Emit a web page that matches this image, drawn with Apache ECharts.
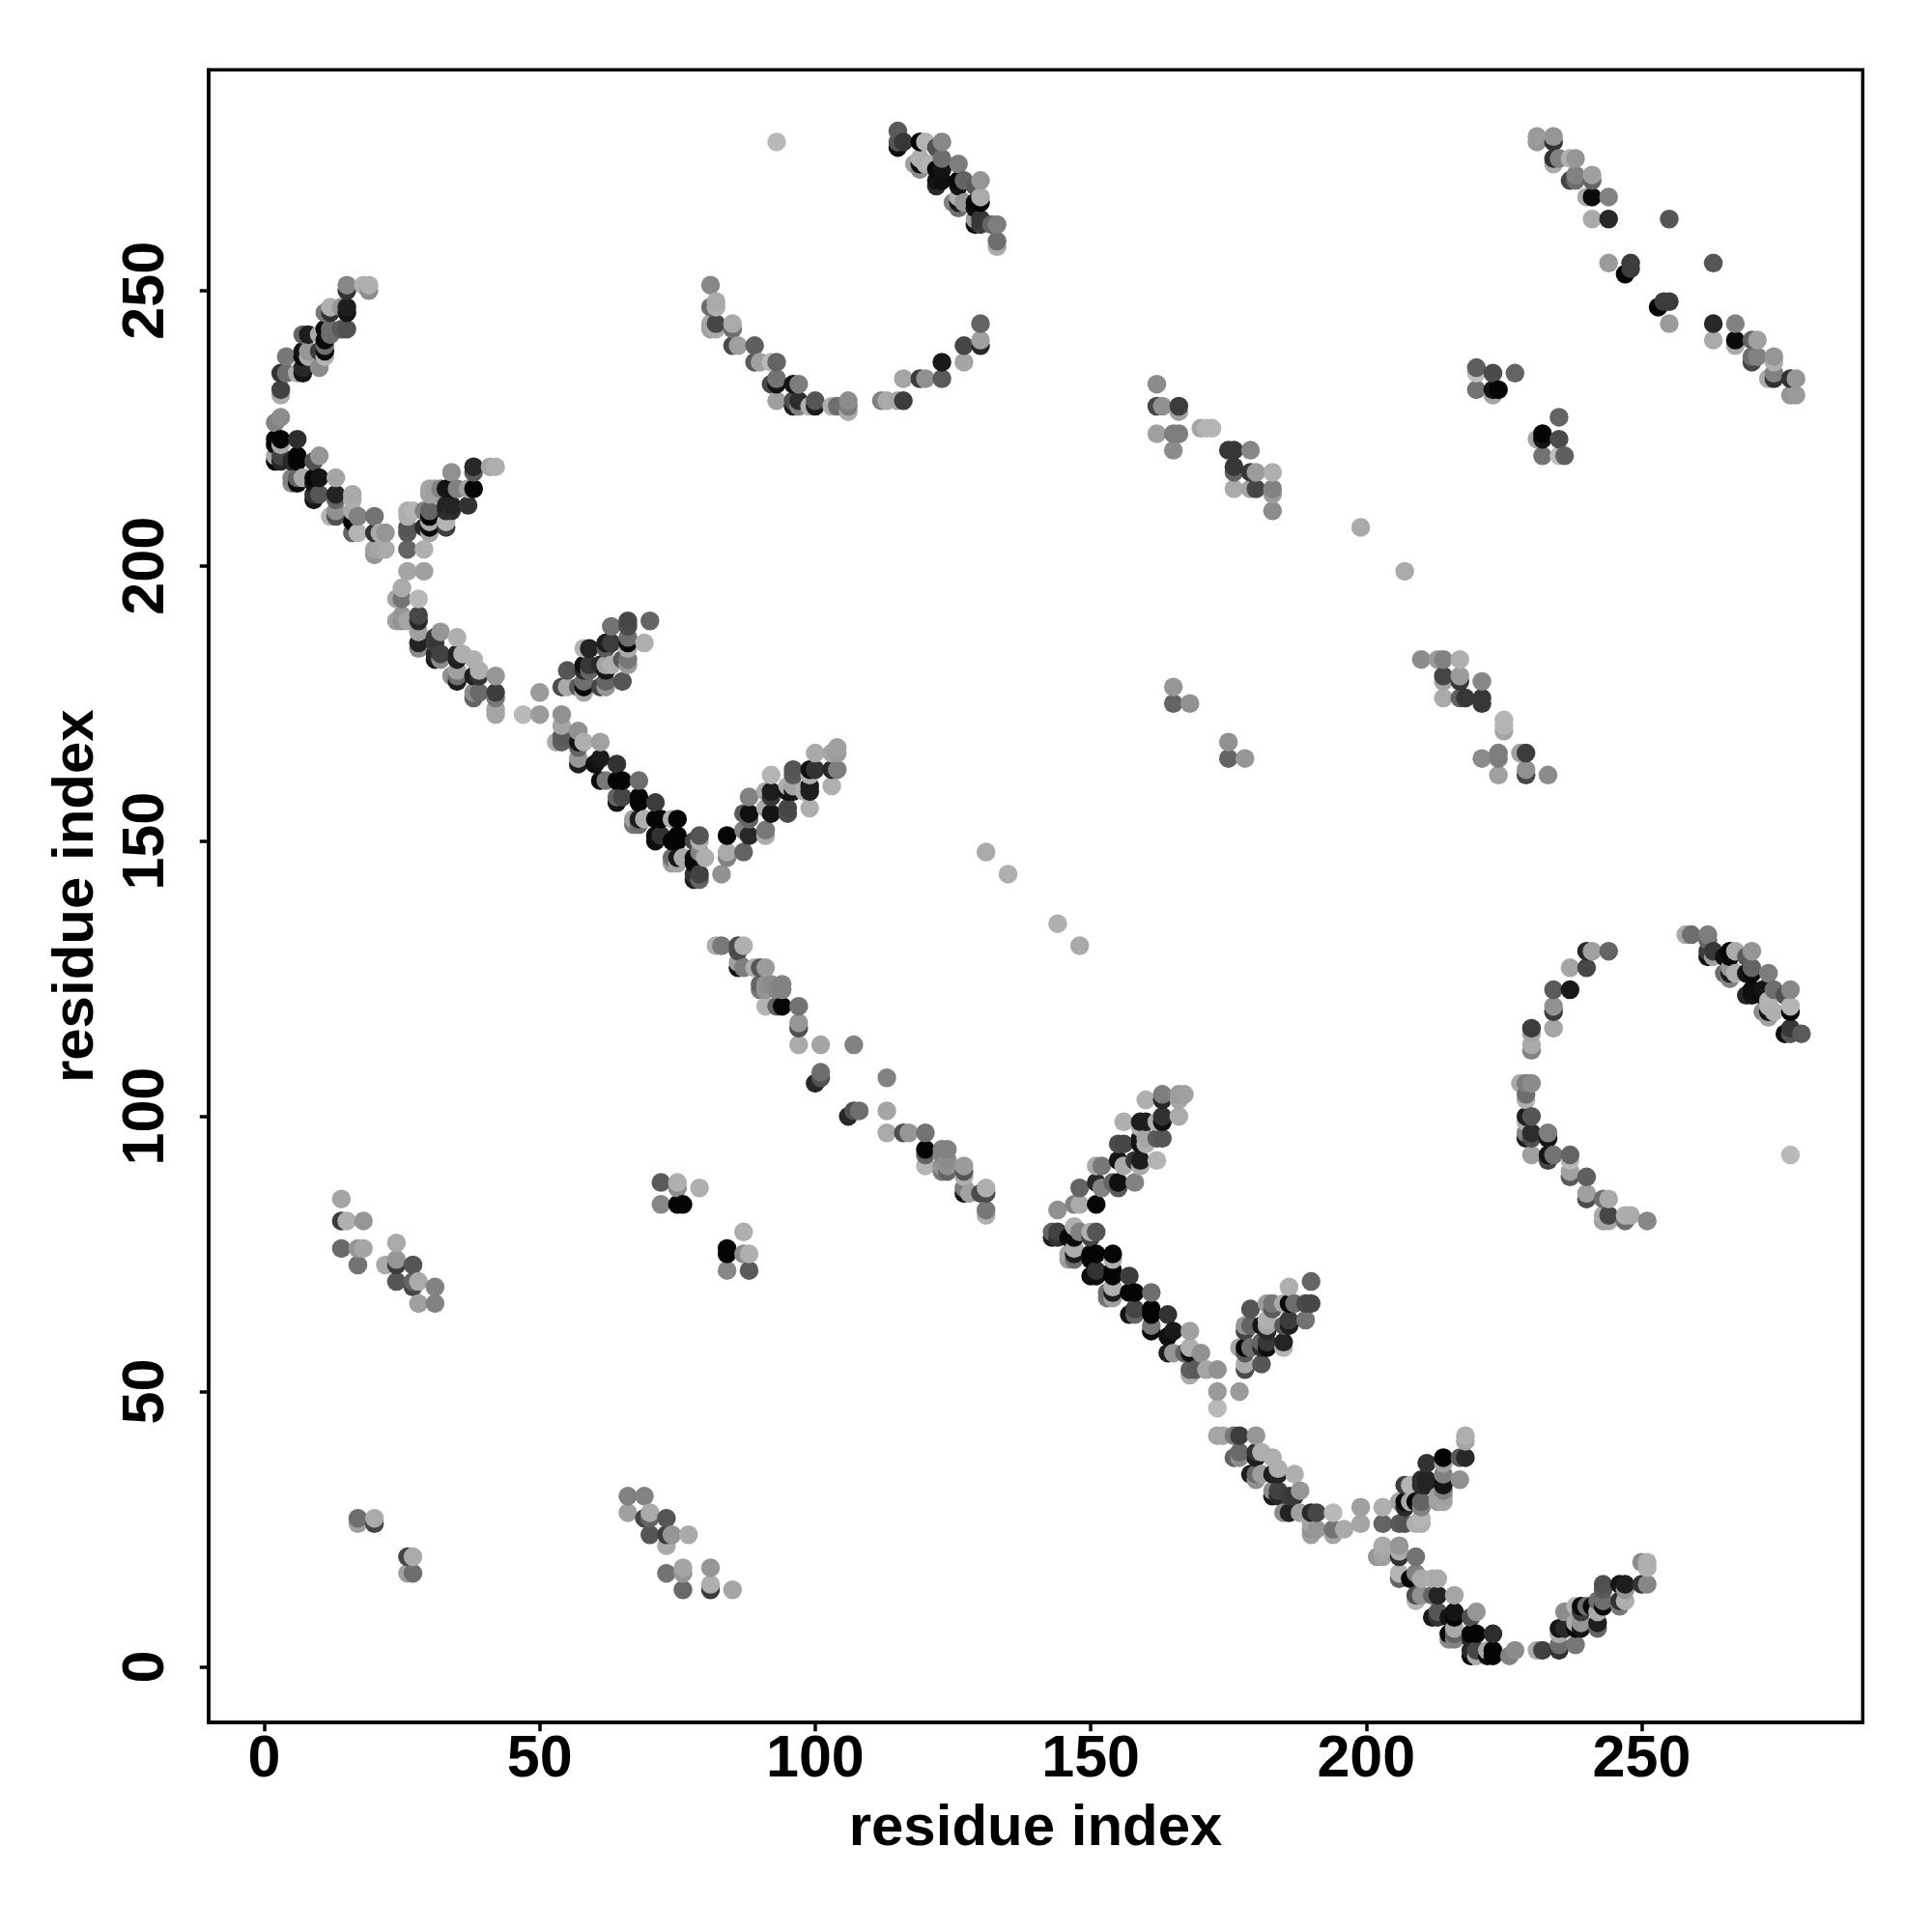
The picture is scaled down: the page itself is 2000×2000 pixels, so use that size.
<!DOCTYPE html>
<html><head><meta charset="utf-8">
<style>html,body{margin:0;padding:0;background:#fff}#c{width:2000px;height:2000px}</style>
<script src="https://cdn.jsdelivr.net/npm/echarts@6/dist/echarts.min.js"></script>
</head><body><div id="c"></div>
<script>
// Contacts are [residue i, residue j, grey level]; the map is symmetric, i < j listed.
const armTopLeft = [[15,251,135],[15,250,50],[18,251,175],[19,251,175],[19,250,140],[15,247,30],[15,246,20],[14,247,150],[12,247,175],[12,246,50],[11,246,120],[15,243,80],[14,243,90],[12,243,110],[12,242,110],[11,243,10],[11,241,10],[10,242,170],[8,242,30],[7,242,100],[11,240,110],[11,239,10],[11,238,180],[10,239,60],[8,239,150],[7,239,20],[7,238,5],[8,238,170],[4,238,120],[3,235,50],[4,235,110],[6,235,170],[7,236,40],[7,235,20],[10,236,140],[3,232,65],[3,231,170]];
const armLeftLower = [[3,227,140],[2,226,130],[2,223,5],[3,223,5],[6,223,45],[3,222,170],[2,222,15],[2,220,170],[2,219,5],[3,220,70],[3,219,40],[6,220,5],[6,219,5],[5,219,40],[10,220,150],[9,219,80],[5,216,130],[5,215,140],[6,215,10],[6,216,100],[7,216,170],[10,216,20],[9,216,5],[9,215,20],[13,216,165],[9,213,50],[9,212,25],[10,213,85],[13,213,35],[13,212,100],[16,213,170],[16,212,175],[12,209,180],[13,210,145],[13,209,80],[16,210,170],[16,208,5],[17,209,130],[20,209,115],[16,206,100],[17,206,180],[20,206,50],[21,206,170],[22,206,150],[20,203,160],[20,202,150],[22,203,170],[21,203,165]];
const wingLeft = [[26,210,175],[27,210,180],[26,209,175],[26,207,85],[26,206,90],[26,203,100],[29,203,175],[26,199,165],[29,199,160],[25,196,170],[29,207,40],[30,207,10],[30,206,165],[30,208,170],[30,210,100],[30,209,5],[29,210,130],[30,214,165],[30,213,160],[31,214,160],[31,213,160],[32,214,130],[33,208,180],[33,207,60],[33,211,35],[34,211,35],[33,210,45],[34,210,45],[33,214,20],[34,214,20],[34,217,145],[35,214,130],[37,211,50],[38,214,5],[37,214,160],[38,218,40],[38,217,90],[41,218,165],[42,218,175]];
const helixMid = [[25,194,115],[24,194,165],[28,194,185],[24,190,160],[25,191,150],[25,190,145],[26,190,165],[28,191,70],[28,190,40],[28,188,160],[28,186,35],[28,185,140],[32,188,150],[31,187,55],[31,186,60],[35,187,175],[32,184,65],[31,184,40],[31,183,25],[32,183,140],[35,184,35],[36,184,175],[35,183,30],[38,183,175],[39,181,175],[38,180,30],[39,180,50],[42,180,150],[34,180,145],[35,181,160],[35,180,110],[35,179,30],[38,177,140],[38,176,100],[39,177,105],[42,177,60],[42,176,120],[42,174,165],[42,173,165],[47,173,185],[50,173,155],[50,177,155]];
const helixDown = [[54,173,145],[54,171,165],[54,169,90],[54,168,95],[53,168,170],[57,170,145],[57,168,20],[58,168,175],[57,167,100],[61,168,160],[57,165,150],[57,164,30],[60,164,15],[61,165,25],[64,164,50],[61,161,10],[62,161,120],[64,161,5],[65,161,5],[68,161,110],[64,157,20],[65,158,70],[64,158,100],[68,158,5],[68,157,5],[71,157,60],[67,154,160],[67,153,120],[68,154,30],[69,154,175],[68,153,110],[71,154,5],[72,154,5],[75,154,5],[74,154,175],[71,151,15],[71,150,15],[72,151,50],[75,151,5],[75,150,5],[74,150,5],[79,151,85],[78,150,70],[79,150,175],[74,147,110],[74,146,155],[75,147,25],[75,146,165],[76,147,170],[78,147,10],[78,146,10],[79,148,130],[80,147,175],[78,143,30],[79,144,65],[79,143,100],[78,144,50],[83,144,145],[84,151,5],[84,148,170],[84,147,130]];
const helixUp = [[87,148,100],[87,152,130],[87,155,90],[88,158,130],[88,155,15],[88,154,100],[88,151,40],[91,152,120],[91,151,170],[91,156,170],[91,159,170],[92,162,180],[92,159,30],[92,158,55],[92,155,20],[95,156,70],[95,155,75],[95,160,175],[95,159,20],[96,163,85],[96,162,90],[96,160,165],[96,159,20],[99,163,15],[100,163,50],[99,160,30],[99,159,30],[99,156,175],[98,159,175],[99,162,175],[100,166,170],[103,163,40],[104,163,125],[103,160,175],[103,166,165],[104,167,160],[104,166,155]];
const wingMid = [[70,190,100],[66,190,70],[66,189,75],[63,189,115],[69,186,175],[66,187,110],[66,186,10],[66,185,170],[66,183,120],[66,182,155],[65,183,90],[62,186,30],[63,186,60],[62,185,90],[59,185,35],[58,185,180],[55,181,85],[58,182,15],[59,182,55],[58,181,45],[59,181,100],[62,182,165],[63,182,175],[61,182,40],[62,181,20],[54,178,75],[55,178,170],[57,178,90],[58,179,110],[58,178,5],[58,177,165],[61,178,70],[62,179,100],[62,178,150],[65,179,85]];
const arcTopRight = [[115,279,90],[115,277,85],[115,276,15],[116,277,55],[119,277,5],[120,277,180],[123,277,135],[122,276,80],[118,273,160],[119,274,175],[119,273,15],[119,272,140],[120,273,175],[121,273,180],[123,274,110],[122,272,10],[123,272,20],[123,270,15],[122,270,20],[122,269,40],[126,273,125],[127,270,100],[126,270,10],[126,269,20],[130,270,150],[129,269,90],[125,266,130],[126,267,175],[126,266,25],[126,265,110],[127,266,150],[130,267,170],[129,266,10],[130,266,5],[129,265,15],[129,263,160],[129,262,15],[130,263,55],[130,262,60],[132,262,100],[133,262,125],[133,259,110],[133,258,170]];
const arcBowl = [[81,251,135],[81,247,110],[82,248,170],[82,247,175],[81,244,165],[81,243,160],[82,244,70],[82,243,170],[85,244,170],[85,243,110],[85,240,75],[86,240,160],[89,240,95],[89,237,90],[90,237,160],[92,237,185],[93,237,100],[92,233,70],[93,234,115],[93,233,20],[96,233,20],[97,233,125],[93,230,160],[96,230,80],[96,229,30],[97,230,45],[97,229,130],[99,229,175],[100,230,85],[100,229,30],[103,229,175],[104,229,110],[106,230,140],[106,229,125],[106,228,170],[112,230,130],[113,230,170],[115,230,165],[116,230,60],[116,234,165],[119,234,60],[120,234,145],[123,234,90],[123,237,25],[127,237,165],[127,240,70],[130,241,160],[130,240,40],[130,244,100]];
const patchD = [[162,233,140],[162,229,70],[163,229,145],[166,229,60],[166,228,160],[162,224,160],[165,224,125],[166,224,125],[165,221,140],[170,225,165],[171,225,180],[172,225,180],[175,221,55],[176,221,55],[179,221,135],[176,218,55],[176,217,100],[179,217,55],[180,217,155],[183,217,175],[176,214,170],[179,214,165],[180,214,70],[183,214,130],[183,213,155],[183,210,140]];
const patchF = [[220,236,95],[220,235,190],[223,235,75],[227,235,100],[220,232,115],[223,232,20],[224,232,5],[223,231,165]];
const patchSmall = [[165,178,150],[165,175,100],[168,175,145],[17,27,110],[17,26,160],[20,27,170],[20,26,70]];
const isolated = [[93,277,185],[131,148,170],[135,144,175],[199,207,170]];
const antiG = [[231,278,155],[231,277,150],[234,278,150],[234,277,50],[234,274,50],[235,274,130],[234,273,170],[237,274,175],[238,274,150],[237,270,70],[238,271,130],[238,270,110],[241,271,160],[241,270,100],[240,267,170],[241,267,10],[244,267,130],[241,263,170],[244,263,40],[255,263,85],[244,255,155],[248,255,60],[248,254,60],[247,253,5]];
const antiJ = [[82,131,175],[83,131,120],[86,131,75],[87,131,175],[86,130,75],[86,128,160],[86,127,20],[87,127,125],[89,127,175],[90,127,85],[91,127,155],[90,124,100],[90,123,120],[91,124,145],[91,123,150],[92,124,140],[94,124,130],[94,123,130],[93,123,135],[91,120,180],[93,120,100],[94,120,5],[97,120,115],[97,117,150],[97,116,80],[97,113,170],[101,113,165],[107,113,130],[101,108,110],[101,107,80],[100,106,40]];
const patchH = [[14,85,165],[14,81,60],[15,81,175],[18,81,150],[14,76,105],[17,76,150],[18,76,165],[17,73,115],[24,77,170],[22,73,170],[24,74,150],[24,73,60],[27,73,85],[24,70,85],[27,70,100],[27,69,70],[28,70,170],[31,69,130],[28,66,160],[31,66,130]];
const patchI = [[72,88,90],[72,84,135],[75,88,175],[75,87,140],[75,84,5],[76,84,5],[79,87,175]];
const tickLabels = [0, 50, 100, 150, 200, 250];
const axisTitle = 'residue index';

const half = [].concat(armTopLeft, armLeftLower, wingLeft, helixMid, helixDown, helixUp, wingMid, arcTopRight, arcBowl, patchD, patchF, patchSmall, isolated, antiG, antiJ, patchH, patchI);
const table = [];
half.forEach(p => { table.push([p[0], p[1], p[2]]); table.push([p[1], p[0], p[2]]); });
table.sort((a, b) => a[0] - b[0] || a[1] - b[1]);

function axis(rotate, nameGap, nameRotate, margin) {
  return {
    type: 'value', min: -10.12, max: 290.12,
    name: axisTitle, nameLocation: 'middle', nameGap: nameGap, nameRotate: nameRotate,
    nameTextStyle: { fontFamily: 'Liberation Sans', fontWeight: 'bold', fontSize: 60, color: '#000' },
    splitLine: { show: false },
    axisLine: { show: true, onZero: false, lineStyle: { color: '#000', width: 3.5 } },
    axisTick: { show: true, length: 9, inside: false, lineStyle: { color: '#000', width: 3.5 }, customValues: tickLabels },
    axisLabel: { show: true, rotate: rotate, margin: margin, fontFamily: 'Liberation Sans', fontWeight: 'bold', fontSize: 61, color: '#000', customValues: tickLabels, formatter: v => String(v), hideOverlap: false, showMinLabel: true, showMaxLabel: true }
  };
}
const chart = echarts.init(document.getElementById('c'), null, { width: 2000, height: 2000 });
chart.setOption({
  animation: false,
  backgroundColor: '#fff',
  grid: { left: 215.8, top: 72.2, width: 1712.5, height: 1711, show: true, borderColor: '#000', borderWidth: 3.5, backgroundColor: 'transparent', containLabel: false },
  xAxis: axis(0, 80, 0, 8),
  yAxis: axis(90, 106, 90, 33),
  tooltip: { show: false },
  series: [{
    type: 'scatter', data: table, symbol: 'circle', symbolSize: 19.5, silent: true, clip: false,
    encode: { x: 0, y: 1 },
    itemStyle: { opacity: 1, color: p => { const g = p.value[2]; return 'rgb(' + g + ',' + g + ',' + g + ')'; } }
  }]
});
</script></body></html>
